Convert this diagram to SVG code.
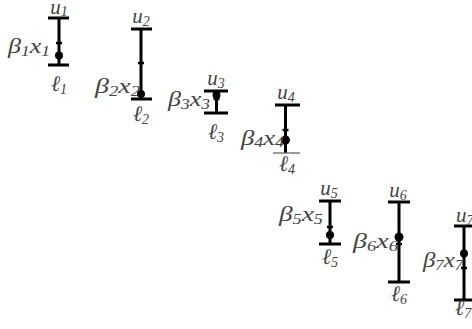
<svg xmlns="http://www.w3.org/2000/svg" width="472" height="329" viewBox="0 0 472 329">
<style>
.ln{stroke:#000;stroke-width:3;fill:none}
.tk{stroke:#000;stroke-width:2.5;fill:none}
.dot{fill:#000}
.t{font-family:"Liberation Serif","DejaVu Serif",serif;font-style:italic;font-size:21px;fill:#444}
.c{text-anchor:middle}
.s{font-size:14px}
.l{font-family:"DejaVu Serif","Liberation Serif",serif;font-size:22px}
</style>
<rect width="472" height="329" fill="#fff"/>

<g id="n1">
<path class="ln" d="M59 18V65M48 18H69M48 65H69"/>
<path class="tk" d="M56 43H62"/>
<circle class="dot" cx="59" cy="55.5" r="4"/>
<text class="t c" x="59" y="14">u<tspan class="s" dy="2">1</tspan></text>
<text class="t" x="8" y="53" textLength="42" lengthAdjust="spacingAndGlyphs">β<tspan class="s" dy="3">1</tspan><tspan dy="-3">x</tspan><tspan class="s" dy="3">1</tspan></text>
<text class="t c" x="59" y="91"><tspan class="l">ℓ</tspan><tspan class="s" dy="3">1</tspan></text>
</g>

<g id="n2">
<path class="ln" d="M141 29V99M131 29H152M131 99H152"/>
<path class="tk" d="M138 63H144"/>
<circle class="dot" cx="141" cy="94" r="4"/>
<text class="t c" x="141" y="23">u<tspan class="s" dy="3">2</tspan></text>
<text class="t" x="95" y="93" textLength="45" lengthAdjust="spacingAndGlyphs">β<tspan class="s" dy="3">2</tspan><tspan dy="-3">x</tspan><tspan class="s" dy="3">2</tspan></text>
<text class="t c" x="141" y="121"><tspan class="l">ℓ</tspan><tspan class="s" dy="3">2</tspan></text>
</g>

<g id="n3">
<path class="ln" d="M216.5 91V113M204 91H228M204 113H228"/>
<path class="tk" d="M213.5 99H219.5"/>
<circle class="dot" cx="216.5" cy="95" r="4"/>
<text class="t c" x="216" y="85">u<tspan class="s" dy="3">3</tspan></text>
<text class="t" x="168" y="106" textLength="42" lengthAdjust="spacingAndGlyphs">β<tspan class="s" dy="3">3</tspan><tspan dy="-3">x</tspan><tspan class="s" dy="3">3</tspan></text>
<text class="t c" x="216" y="139"><tspan class="l">ℓ</tspan><tspan class="s" dy="3">3</tspan></text>
</g>

<g id="n4">
<path class="ln" d="M285.5 105V153M275 105H300"/>
<path d="M273 153H300" stroke="#666" stroke-width="1.3"/>
<path class="tk" d="M282.5 130H288.5"/>
<circle class="dot" cx="285.5" cy="140" r="4.5"/>
<text class="t c" x="286" y="99">u<tspan class="s" dy="3">4</tspan></text>
<text class="t" x="241" y="145" textLength="43" lengthAdjust="spacingAndGlyphs">β<tspan class="s" dy="2">4</tspan><tspan dy="-2">x</tspan><tspan class="s" dy="2">4</tspan></text>
<text class="t c" x="287" y="171"><tspan class="l">ℓ</tspan><tspan class="s" dy="3">4</tspan></text>
</g>

<g id="n5">
<path class="ln" d="M330 201V244M319 201H341M319 244H341"/>
<path class="tk" d="M327 227H333"/>
<circle class="dot" cx="330" cy="235" r="4"/>
<text class="t c" x="329" y="195">u<tspan class="s" dy="3">5</tspan></text>
<text class="t" x="279" y="221" textLength="44" lengthAdjust="spacingAndGlyphs">β<tspan class="s" dy="3">5</tspan><tspan dy="-3">x</tspan><tspan class="s" dy="3">5</tspan></text>
<text class="t c" x="330" y="264"><tspan class="l">ℓ</tspan><tspan class="s" dy="3">5</tspan></text>
</g>

<g id="n6">
<path class="ln" d="M399 202V282M388 202H410M388 282H410"/>
<path class="tk" d="M396 244H402"/>
<circle class="dot" cx="399" cy="237" r="4.5"/>
<text class="t c" x="398" y="197">u<tspan class="s" dy="3">6</tspan></text>
<text class="t" x="353" y="248" textLength="45" lengthAdjust="spacingAndGlyphs">β<tspan class="s" dy="3">6</tspan><tspan dy="-3">x</tspan><tspan class="s" dy="3">6</tspan></text>
<text class="t c" x="399" y="301"><tspan class="l">ℓ</tspan><tspan class="s" dy="3">6</tspan></text>
</g>

<g id="n7">
<path class="ln" d="M464 226V300M454 226H476M454 300H476"/>
<path class="tk" d="M461 268H467"/>
<circle class="dot" cx="464" cy="253.5" r="4"/>
<text class="t" x="456" y="222">u<tspan class="s" dy="3">7</tspan></text>
<text class="t" x="423" y="267" textLength="40" lengthAdjust="spacingAndGlyphs">β<tspan class="s" dy="3">7</tspan><tspan dy="-3">x</tspan><tspan class="s" dy="3">7</tspan></text>
<text class="t" x="455" y="315"><tspan class="l">ℓ</tspan><tspan class="s" dy="3">7</tspan></text>
</g>
</svg>
